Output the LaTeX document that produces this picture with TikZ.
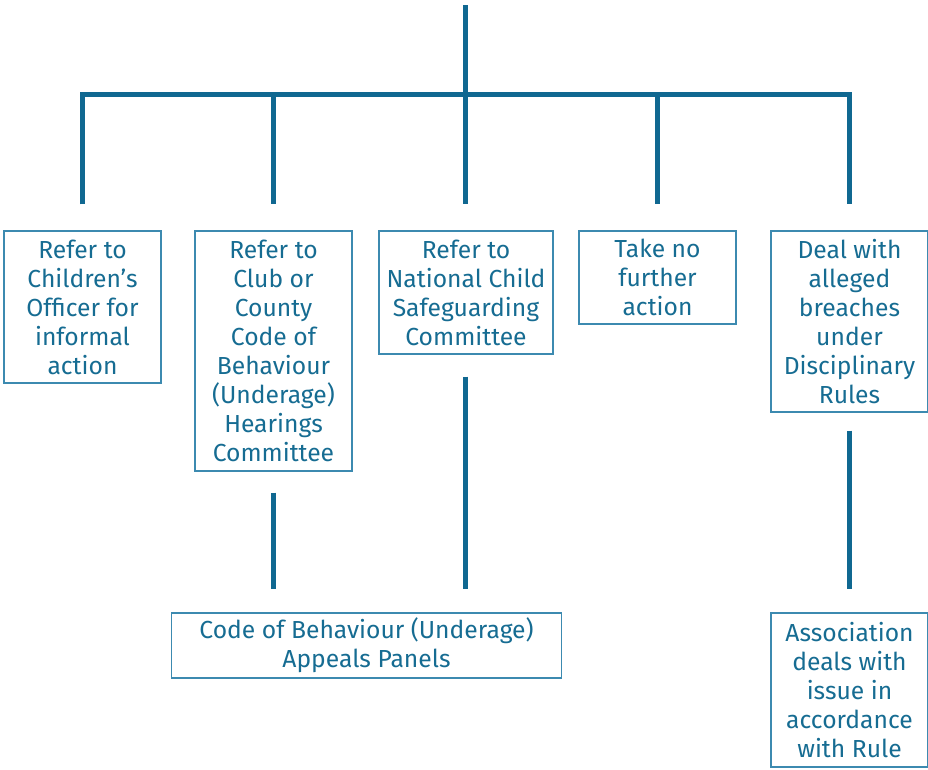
\documentclass[tikz,border=0pt]{standalone}
\usepackage{fontspec}
\setmainfont{Fira Sans}
\usetikzlibrary{calc}

\definecolor{trunkblue}{RGB}{16,104,145}
\definecolor{boxblue}{RGB}{60,138,176}
\definecolor{textblue}{RGB}{22,108,146}

\tikzset{every picture/.style={line width=0.75pt}}
\tikzset{
  optbox/.style={draw=boxblue, line width=1.1pt, text=textblue, align=center,
    inner sep=0pt, font=\fontsize{18.5}{21.75}\selectfont},
  trunk/.style={draw=trunkblue, line width=3.75pt}
}

\begin{document}
\begin{tikzpicture}[x=0.75pt,y=0.75pt,yscale=-1,xscale=1]
\useasboundingbox (0,0) rectangle (928,769);

% Text Node
\node (chofficer) [optbox, minimum width=117.75pt, minimum height=114pt] at (82.5,307) {Refer to\\Children's\\Officer for\\informal\\action};
% Text Node
\node (clubcounty) [optbox, minimum width=117.75pt, minimum height=180pt] at (273.5,351) {Refer to\\Club or\\County\\Code of\\Behaviour\\(Underage)\\Hearings\\Committee};
% Text Node
\node (national) [optbox, minimum width=130.5pt, minimum height=92.25pt] at (466,292.5) {Refer to\\National Child\\Safeguarding\\Committee};
% Text Node
\node (noaction) [optbox, minimum width=117.75pt, minimum height=69.75pt] at (657.5,277.5) {Take no\\further\\action};
% Text Node
\node (breaches) [optbox, minimum width=117.75pt, minimum height=135.75pt] at (849.5,321.5) {Deal with\\alleged\\breaches\\under\\Disciplinary\\Rules};
% Text Node
\node (appeals) [optbox, minimum width=292.5pt, minimum height=48.75pt] at (366.5,645.5) {Code of Behaviour (Underage)\\Appeals Panels};
% Text Node
\node (association) [optbox, minimum width=117.75pt, minimum height=115.5pt] at (849.5,690) {Association\\deals with\\issue in\\accordance\\with Rule};

%Straight Lines
\coordinate (top) at (465,5);
\coordinate (bar) at (465,94);
\draw [trunk] (top) -- (bar);
\draw [trunk] ($(chofficer.north)+(0,-26)$) -- (chofficer.north |- bar) -- (breaches.north |- bar) -- ($(breaches.north)+(0,-26)$);
\draw [trunk] (clubcounty.north |- bar) -- ($(clubcounty.north)+(0,-26)$);
\draw [trunk] (bar) -- ($(bar |- national.north)+(0,-26)$);
\draw [trunk] (noaction.north |- bar) -- ($(noaction.north)+(0,-26)$);
%Straight Lines
\draw [trunk] ($(clubcounty.south)+(0,21)$) -- ($(clubcounty.south |- appeals.north)+(0,-23)$);
\draw [trunk] ($(bar |- national.south)+(0,22)$) -- ($(bar |- appeals.north)+(0,-23)$);
\draw [trunk] ($(breaches.south)+(0,18)$) -- ($(association.north)+(0,-23)$);
\end{tikzpicture}
\end{document}
